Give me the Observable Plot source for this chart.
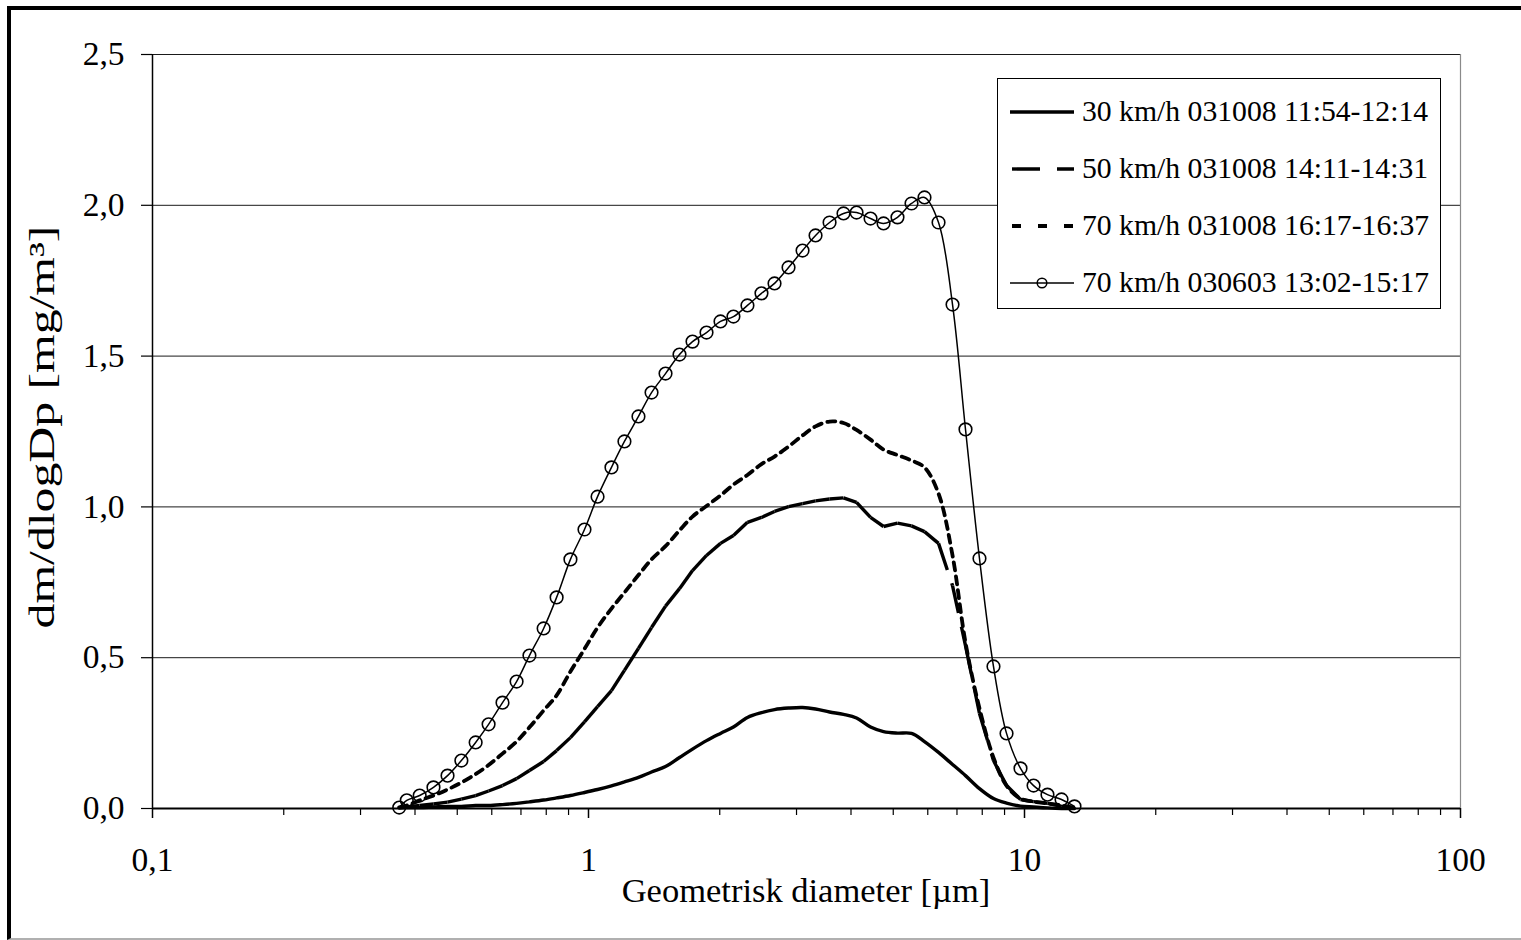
<!DOCTYPE html>
<html>
<head>
<meta charset="utf-8">
<script src="https://cdn.jsdelivr.net/npm/d3@7"></script>
<script src="https://cdn.jsdelivr.net/npm/@observablehq/plot@0.6"></script>
<style>
html, body { margin: 0; padding: 0; background: #fff; }
#wrap { position: relative; width: 1521px; height: 940px; overflow: hidden; font-family: "Liberation Serif", "Times New Roman", serif; color: #000; }
#frame { position: absolute; left: 7px; top: 6px; width: 1514px; height: 934px; box-sizing: border-box; border-top: 4px solid #000; border-left: 4px solid #000; border-bottom: 2px solid #b0b0b0; pointer-events: none; }
#chart { position: absolute; left: 0; top: 0; }
.ytitle { position: absolute; left: 42px; top: 427px; transform: translate(-50%, -50%) rotate(-90deg) scaleX(1.42); white-space: nowrap; font-size: 35px; line-height: 1; }
.xtitle { position: absolute; left: 806px; top: 873px; transform: translateX(-50%); white-space: nowrap; font-size: 34.5px; line-height: 1; }
.legend { position: absolute; left: 997px; top: 78px; width: 444px; height: 231px; box-sizing: border-box; border: 1.5px solid #000; background: #fff; }
.row { position: absolute; left: 12px; height: 30px; display: flex; align-items: center; font-size: 29.7px; line-height: 1; white-space: nowrap; }
.row svg { margin-right: 8px; }
</style>
</head>
<body>
<div id="wrap">
  <div id="chart"></div>
  <div class="ytitle">dm/dlogDp [mg/m³]</div>
  <div class="xtitle">Geometrisk diameter [µm]</div>
  <div class="legend" id="legend"></div>
  <div id="frame"></div>
</div>
<script>
// ---- data ----
const diameter = [0.368, 0.383, 0.410, 0.441, 0.475, 0.511, 0.551, 0.590, 0.635, 0.684,
  0.732, 0.789, 0.845, 0.909, 0.979, 1.049, 1.129, 1.209, 1.302, 1.395,
  1.502, 1.617, 1.732, 1.865, 2.008, 2.150, 2.315, 2.493, 2.671, 2.876,
  3.097, 3.317, 3.572, 3.845, 4.119, 4.435, 4.750, 5.113, 5.506, 5.897,
  6.351, 6.838, 7.323, 7.884, 8.489, 9.095, 9.791, 10.49, 11.29, 12.16, 13.02];

const kmh30 = [0.002, 0.003, 0.003, 0.005, 0.007, 0.007, 0.010, 0.010, 0.013, 0.017,
  0.022, 0.028, 0.035, 0.043, 0.053, 0.063, 0.075, 0.088, 0.103, 0.121,
  0.139, 0.169, 0.197, 0.225, 0.249, 0.270, 0.302, 0.318, 0.328, 0.333,
  0.335, 0.330, 0.320, 0.312, 0.300, 0.270, 0.255, 0.250, 0.249, 0.222,
  0.186, 0.146, 0.109, 0.066, 0.033, 0.018, 0.008, 0.005, 0.002, 0.000, 0.000];

const kmh50 = [0.002, 0.005, 0.010, 0.015, 0.021, 0.031, 0.043, 0.058, 0.076, 0.099,
  0.126, 0.156, 0.192, 0.235, 0.287, 0.338, 0.391, 0.458, 0.531, 0.600,
  0.671, 0.729, 0.789, 0.839, 0.879, 0.905, 0.949, 0.965, 0.985, 1.001,
  1.011, 1.020, 1.026, 1.030, 1.015, 0.965, 0.935, 0.946, 0.937, 0.918,
  0.879, 0.739, 0.540, 0.315, 0.159, 0.076, 0.030, 0.023, 0.017, 0.007, 0.002];

const kmh70 = [0.004, 0.010, 0.027, 0.043, 0.063, 0.086, 0.114, 0.144, 0.182, 0.222,
  0.269, 0.325, 0.375, 0.454, 0.529, 0.600, 0.663, 0.716, 0.774, 0.826,
  0.870, 0.922, 0.968, 1.003, 1.038, 1.074, 1.106, 1.142, 1.167, 1.200,
  1.237, 1.267, 1.283, 1.278, 1.255, 1.223, 1.190, 1.172, 1.154, 1.131,
  1.044, 0.839, 0.550, 0.332, 0.169, 0.076, 0.033, 0.023, 0.017, 0.010, 0.002];

const kmh70june = [0.003, 0.027, 0.043, 0.070, 0.109, 0.159, 0.219, 0.279, 0.351, 0.421,
  0.507, 0.597, 0.700, 0.826, 0.925, 1.034, 1.131, 1.217, 1.300, 1.379,
  1.442, 1.505, 1.548, 1.578, 1.615, 1.631, 1.668, 1.708, 1.741, 1.794,
  1.850, 1.900, 1.943, 1.973, 1.976, 1.956, 1.940, 1.960, 2.006, 2.026,
  1.943, 1.671, 1.257, 0.829, 0.471, 0.249, 0.133, 0.076, 0.046, 0.030, 0.007];

const seriesNames = ["30 km/h 031008 11:54-12:14", "50 km/h 031008 14:11-14:31",
  "70 km/h 031008 16:17-16:37", "70 km/h 030603 13:02-15:17"];

const yTicks = [0, 0.5, 1, 1.5, 2, 2.5];
const xTicks = [0.1, 1, 10, 100];
const xTickLabels = ["0,1", "1", "10", "100"];
const xMinorTicks = [0.2, 0.3, 0.4, 0.5, 0.6, 0.7, 0.8, 0.9, 2, 3, 4, 5, 6, 7, 8, 9, 20, 30, 40, 50, 60, 70, 80, 90];

// ---- build tables ----
const rows = diameter.map((d, i) => ({d, a: kmh30[i], b: kmh50[i], c: kmh70[i], e: kmh70june[i]}));
const segs50 = d3.pairs(rows).map(([p, q]) => ({x1: p.d, y1: p.b, x2: q.d, y2: q.b}));

const fmtY = d => d.toFixed(1).replace(".", ",");
const fmtX = d => xTickLabels[xTicks.indexOf(d)];

const chart = Plot.plot({
  width: 1521,
  height: 940,
  marginLeft: 152,
  marginRight: 61,
  marginTop: 54,
  marginBottom: 132,
  style: {fontFamily: "'Liberation Serif', 'Times New Roman', serif", color: "#000", background: "transparent", overflow: "visible"},
  x: {type: "log", domain: [0.1, 100]},
  y: {domain: [0, 2.5]},
  marks: [
    Plot.ruleY(yTicks.filter(d => d > 0), {stroke: "#1a1a1a", strokeWidth: 1}),
    Plot.ruleX([100], {stroke: "#8a8a8a", strokeWidth: 1.2}),
    Plot.axisY({ticks: yTicks, tickSize: 11, tickPadding: 17, tickFormat: fmtY, label: null, fontSize: 33.5, strokeWidth: 1.2}),
    Plot.axisX({ticks: xMinorTicks, tickSize: 7, tickFormat: () => "", label: null, strokeWidth: 1.2}),
    Plot.axisX({ticks: xTicks, tickSize: 10, tickPadding: 29, tickFormat: fmtX, label: null, fontSize: 33.5, strokeWidth: 1.5}),
    Plot.ruleX([0.1], {stroke: "#000", strokeWidth: 1.5}),
    Plot.ruleY([0], {stroke: "#000", strokeWidth: 2}),
    // 30 km/h thick solid
    Plot.line(rows, {x: "d", y: "a", curve: "catmull-rom", stroke: "#000", strokeWidth: 3.4}),
    // 50 km/h long dash (pattern restarts on each segment, as in the original)
    Plot.link(segs50, {x1: "x1", y1: "y1", x2: "x2", y2: "y2", stroke: "#000", strokeWidth: 3.4, strokeDasharray: "28,14", strokeLinecap: "butt"}),
    // 70 km/h short dash
    Plot.line(rows, {x: "d", y: "c", curve: "catmull-rom", stroke: "#000", strokeWidth: 3.8, strokeDasharray: "8,6"}),
    // 70 km/h 030603 thin line with circles
    Plot.line(rows, {x: "d", y: "e", curve: "catmull-rom", stroke: "#000", strokeWidth: 1.5}),
    Plot.dot(rows, {x: "d", y: "e", r: 6.3, stroke: "#000", strokeWidth: 1.6, fill: "none"})
  ]
});
document.getElementById("chart").appendChild(chart);

// ---- legend ----
const legend = document.getElementById("legend");
const swatches = [
  '<line x1="0" y1="10" x2="64" y2="10" stroke="#000" stroke-width="3.4"/>',
  '<line x1="2" y1="10" x2="64" y2="10" stroke="#000" stroke-width="3.4" stroke-dasharray="28,17"/>',
  '<line x1="2" y1="10" x2="64" y2="10" stroke="#000" stroke-width="3.8" stroke-dasharray="9,17"/>',
  '<line x1="0" y1="10" x2="64" y2="10" stroke="#000" stroke-width="1.5"/><circle cx="32" cy="10" r="4.8" fill="#fff" stroke="#000" stroke-width="1.5"/><line x1="27" y1="10" x2="37" y2="10" stroke="#000" stroke-width="1.5"/>'
];
const rowCenters = [33, 90, 147, 204];
seriesNames.forEach((name, i) => {
  const r = document.createElement("div");
  r.className = "row";
  r.style.top = (rowCenters[i] - 15) + "px";
  r.innerHTML = '<svg width="64" height="20">' + swatches[i] + '</svg><span>' + name + '</span>';
  legend.appendChild(r);
});
</script>
</body>
</html>
